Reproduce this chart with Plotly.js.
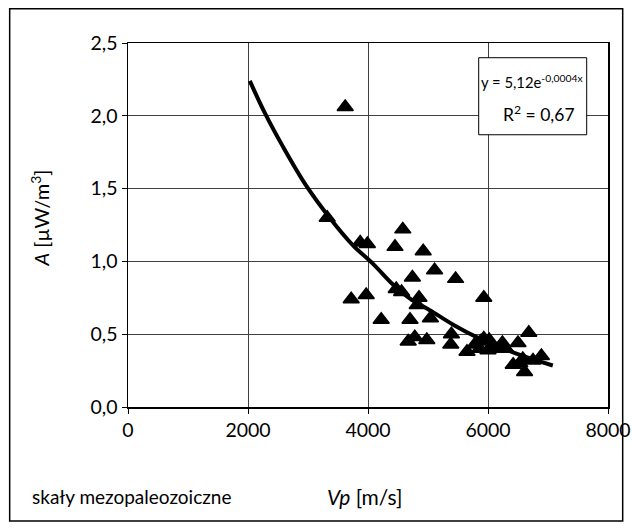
<!DOCTYPE html>
<html>
<head>
<meta charset="utf-8">
<script src="https://cdn.plot.ly/plotly-3.0.1.min.js"></script>
<style>html,body{margin:0;padding:0;background:#fff;}#chart{width:632px;height:527px;}</style>
</head>
<body>
<div id="chart"></div>
<script>
// Measured samples: Vp [m/s] and A [µW/m3]
const vp = [3320, 3620, 3720, 3870, 3990, 3970, 4220, 4450, 4580, 4470, 4560, 4700, 4740, 4920, 5110, 5460,
            4850, 4820, 5040, 4780, 4670, 4980, 5390, 5380, 5650, 5930, 5930, 6020, 5780, 5860, 6000, 6100,
            6240, 6300, 6500, 6680, 6420, 6580, 6610, 6750, 6890, 6530, 5880];
const heat = [1.30, 2.06, 0.74, 1.13, 1.12, 0.77, 0.60, 1.10, 1.22, 0.81, 0.79, 0.60, 0.89, 1.07, 0.94, 0.88,
              0.75, 0.70, 0.61, 0.48, 0.45, 0.46, 0.50, 0.43, 0.38, 0.75, 0.47, 0.46, 0.43, 0.40, 0.39, 0.40,
              0.44, 0.40, 0.44, 0.51, 0.29, 0.33, 0.24, 0.32, 0.35, 0.30, 0.45];
// Trend curve
const trendX = [2030, 2280, 2580, 2970, 3360, 3750, 4080, 4420, 4700, 5030, 5420, 5810, 6450, 7080];
const trendY = [2.24, 2.02, 1.79, 1.52, 1.30, 1.11, 0.985, 0.84, 0.745, 0.665, 0.565, 0.48, 0.37, 0.285];
const xTicks = [0, 2000, 4000, 6000, 8000];
const yTicks = [0, 0.5, 1.0, 1.5, 2.0, 2.5];
const eqLine1 = 'y = 5,12e<sup>-0,0004x</sup>';
const eqLine2 = 'R<sup>2</sup> = 0,67';
const xTitle = '<i>Vp</i> [m/s]';
const yTitle = '<i>A</i> [µW/m<sup>3</sup>]';
const caption = 'skały mezopaleozoiczne';

const FONT = 'Lato, "Open Sans", sans-serif';

const traces = [
  {x: trendX, y: trendY, type: 'scatter', mode: 'lines',
   line: {color: '#000', width: 4, shape: 'spline', smoothing: 1}, hoverinfo: 'skip'},
  {x: vp, y: heat, type: 'scatter', mode: 'markers',
   marker: {symbol: 'triangle-up', size: 14, color: '#000', line: {color: '#000', width: 1.5}}}
];

const layout = {
  width: 632, height: 527,
  margin: {l: 128.3, r: 23.7, t: 43.3, b: 120, pad: 0},
  paper_bgcolor: '#fff', plot_bgcolor: '#fff',
  showlegend: false,
  separators: ',.',
  font: {family: FONT, size: 19, color: '#000'},
  xaxis: {
    range: [0, 8000], tickvals: xTicks, ticktext: xTicks.map(String),
    showgrid: true, gridcolor: '#404040', gridwidth: 1,
    showline: true, linecolor: '#000', linewidth: 1.5, mirror: true,
    ticks: 'outside', ticklen: 5, tickcolor: '#000',
    zeroline: false, fixedrange: true,
    tickfont: {family: FONT, size: 19.5, color: '#000'}
  },
  yaxis: {
    range: [0, 2.5], tickvals: yTicks, tickformat: '.1f',
    showgrid: true, gridcolor: '#404040', gridwidth: 1,
    showline: true, linecolor: '#000', linewidth: 1.5, mirror: true,
    ticks: 'outside', ticklen: 5, tickcolor: '#000',
    zeroline: false, fixedrange: true,
    tickfont: {family: FONT, size: 19.5, color: '#000'}
  },
  shapes: [
    {type: 'rect', xref: 'paper', yref: 'paper', x0: -0.2465, x1: 1.0306, y0: -0.3134, y1: 1.0943,
     line: {color: '#000', width: 1.5}, fillcolor: 'rgba(0,0,0,0)', layer: 'below'},
    {type: 'rect', xref: 'paper', yref: 'paper', x0: 0.7306, x1: 0.9556, y0: 0.7479, y1: 0.9596,
     line: {color: '#000', width: 1}, fillcolor: '#fff', layer: 'above'}
  ],
  annotations: [
    {text: eqLine1, xref: 'paper', yref: 'paper', x: 0.843, y: 0.895, showarrow: false,
     xanchor: 'center', yanchor: 'middle', font: {family: FONT, size: 14.8, color: '#000'}},
    {text: eqLine2, xref: 'paper', yref: 'paper', x: 0.857, y: 0.806, showarrow: false,
     xanchor: 'center', yanchor: 'middle', font: {family: FONT, size: 17.5, color: '#000'}},
    {text: yTitle, xref: 'paper', yref: 'paper', x: -0.184, y: 0.52, textangle: -90, showarrow: false,
     xanchor: 'center', yanchor: 'middle', font: {family: FONT, size: 20, color: '#000'}},
    {text: xTitle, xref: 'paper', yref: 'paper', x: 0.493, y: -0.245, showarrow: false,
     xanchor: 'center', yanchor: 'middle', font: {family: FONT, size: 21, color: '#000'}},
    {text: caption, xref: 'paper', yref: 'paper', x: -0.205, y: -0.245, showarrow: false,
     xanchor: 'left', yanchor: 'middle', font: {family: FONT, size: 19, color: '#000'}}
  ]
};

Plotly.newPlot('chart', traces, layout, {displayModeBar: false, staticPlot: true});
</script>
</body>
</html>
